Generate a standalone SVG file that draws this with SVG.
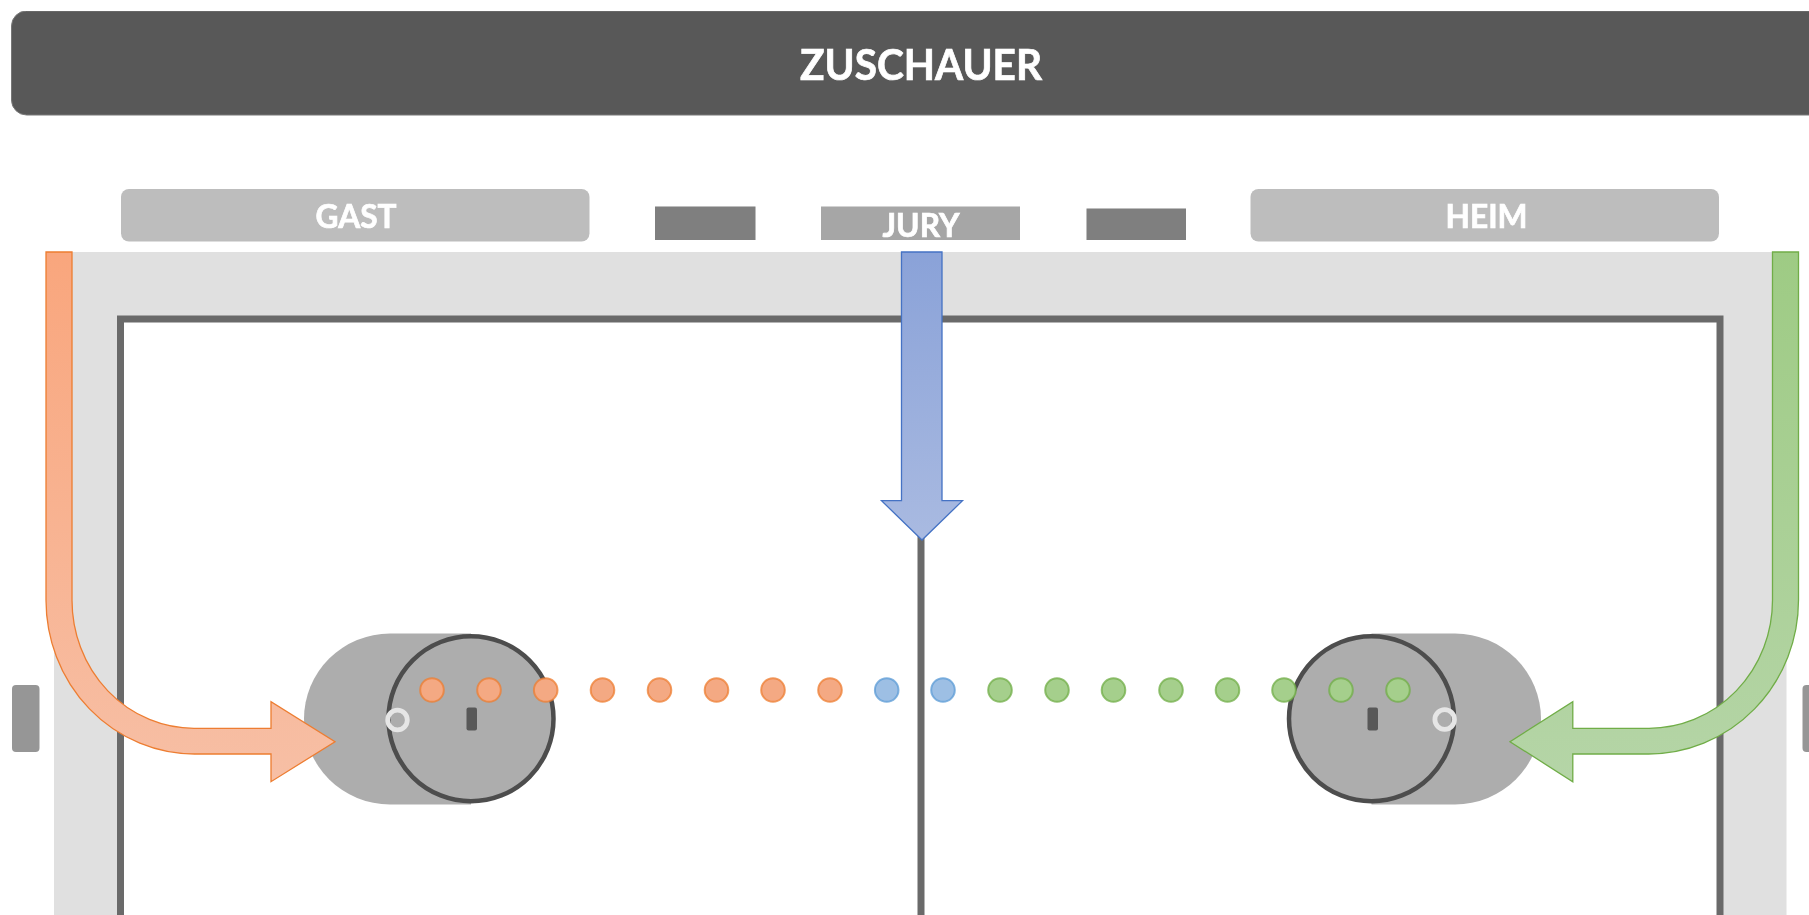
<svg xmlns="http://www.w3.org/2000/svg" width="1809" height="915" viewBox="0 0 1809 915">
<style>
text{font-family:Lato,"Open Sans","Liberation Sans",sans-serif;font-weight:700;fill:#fff;stroke:#fff;stroke-width:.7px;text-anchor:middle}
.lbl{font-size:33px}
.team{fill:#bdbdbd}
.bench{fill:#7f7f7f}
.side{fill:#969696}
.puck{fill:#adadad}
.face{fill:#adadad;stroke:#4d4d4d;stroke-width:4.5}
.slot{fill:#595959}
.ring{fill:none;stroke:#e6e6e6;stroke-width:4.8}
.rink{fill:#fff;stroke:#6b6b6b;stroke-width:7}
.dot{stroke-width:2;stroke-opacity:.75}
.o{fill:#f4a983;stroke:#ed7d31}
.b{fill:#9dbfe4;stroke:#5b9bd5}
.g{fill:#a5cf8c;stroke:#70ad47}
</style>
<defs>
<linearGradient id="gradO" x1="0" y1="0" x2="0" y2="1"><stop offset="0" stop-color="#f9a67d"/><stop offset="1" stop-color="#f7bfa5"/></linearGradient>
<linearGradient id="gradB" x1="0" y1="0" x2="0" y2="1"><stop offset="0" stop-color="#8aa2d8"/><stop offset="1" stop-color="#a9bae1"/></linearGradient>
<linearGradient id="gradG" x1="0" y1="0" x2="0" y2="1"><stop offset="0" stop-color="#9ecb84"/><stop offset="1" stop-color="#b5d5a7"/></linearGradient>
<filter id="soft" x="0" y="0" width="1" height="1" filterUnits="objectBoundingBox"><feGaussianBlur stdDeviation="0.55"/></filter>
</defs>
<rect width="1809" height="915" fill="#fff"/>
<g id="diagram" filter="url(#soft)">
<g id="header"><rect x="11.5" y="11" width="1830" height="104" rx="15" fill="#595959" stroke="#777" stroke-width="1"/><text x="921" y="79.500" font-size="42" textLength="242" lengthAdjust="spacingAndGlyphs">ZUSCHAUER</text></g>
<g id="gast"><rect class="team" x="121" y="189" width="468.500" height="52.500" rx="8"/><text class="lbl" x="356" y="228" textLength="81" lengthAdjust="spacingAndGlyphs">GAST</text></g>
<g id="bench-left"><rect class="bench" x="655" y="206.500" width="100.500" height="33.500"/></g>
<g id="jury"><rect x="821" y="206.500" width="199" height="33.500" fill="#a6a6a6"/><text class="lbl" x="921" y="236.500" textLength="77" lengthAdjust="spacingAndGlyphs">JURY</text></g>
<g id="bench-right"><rect class="bench" x="1086.500" y="208.500" width="99.500" height="31.500"/></g>
<g id="heim"><rect class="team" x="1250.500" y="189" width="468.500" height="52.500" rx="8"/><text class="lbl" x="1486.500" y="228" textLength="82" lengthAdjust="spacingAndGlyphs">HEIM</text></g>
<g id="side-left"><rect class="side" x="12" y="685" width="27.500" height="67" rx="4"/></g>
<g id="side-right"><rect class="side" x="1802.500" y="685" width="30" height="67" rx="4"/></g>
<g id="surround"><rect x="54" y="252" width="1732.500" height="670" fill="#e0e0e0"/></g>
<g id="rink"><rect class="rink" x="120.500" y="319" width="1599.500" height="640"/><line x1="921" y1="530" x2="921" y2="925" stroke="#6b6b6b" stroke-width="7"/></g>
<g id="puck-left"><path class="puck" d="M471 633.500H390A86 85.500 0 0 0 390 804.500H471Z"/><circle class="face" cx="471" cy="718.700" r="82.500"/><rect class="slot" x="466.500" y="707.500" width="10.500" height="23" rx="2"/><circle class="ring" cx="397.500" cy="720" r="9.800"/></g>
<g id="puck-right"><path class="puck" d="M1371.500 633.500H1455A86 85.500 0 0 1 1455 804.500H1371.500Z"/><circle class="face" cx="1371.500" cy="718.700" r="82.500"/><rect class="slot" x="1367.500" y="707.500" width="10.500" height="23" rx="2"/><circle class="ring" cx="1444.700" cy="719.500" r="9.800"/></g>
<g id="dots">
<circle class="dot o" cx="432" cy="690" r="11.800"/><circle class="dot o" cx="489" cy="690" r="11.800"/><circle class="dot o" cx="545.700" cy="690" r="11.800"/><circle class="dot o" cx="602.500" cy="690" r="11.800"/><circle class="dot o" cx="659.500" cy="690" r="11.800"/><circle class="dot o" cx="716.500" cy="690" r="11.800"/><circle class="dot o" cx="773" cy="690" r="11.800"/><circle class="dot o" cx="830" cy="690" r="11.800"/>
<circle class="dot b" cx="886.700" cy="690" r="11.800"/><circle class="dot b" cx="943" cy="690" r="11.800"/>
<circle class="dot g" cx="1000" cy="690" r="11.800"/><circle class="dot g" cx="1057" cy="690" r="11.800"/><circle class="dot g" cx="1113.500" cy="690" r="11.800"/><circle class="dot g" cx="1171" cy="690" r="11.800"/><circle class="dot g" cx="1227.500" cy="690" r="11.800"/><circle class="dot g" cx="1284" cy="690" r="11.800"/><circle class="dot g" cx="1341" cy="690" r="11.800"/><circle class="dot g" cx="1398" cy="690" r="11.800"/>
</g>
<g id="connectors" stroke-width="1.300" stroke-linejoin="miter">
<path d="M46 252H72V600A122 128 0 0 0 194.500 728.300H271V701.700L335 741.700L271 781.700V754H194.500A148.500 154 0 0 1 46 600Z" fill="url(#gradO)" stroke="#ed7d31"/>
<path d="M901.500 252H942V500.700H962.500L922 540L881.500 500.700H901.500Z" fill="url(#gradB)" stroke="#4472c4"/>
<path d="M1798.500 252H1772.500V600A123.500 128 0 0 1 1648.500 728.300H1572.800V701.700L1510 741.700L1572.800 781.700V754H1648.500A150 154 0 0 0 1798.500 600Z" fill="url(#gradG)" stroke="#70ad47"/>
</g>
</g>
</svg>
